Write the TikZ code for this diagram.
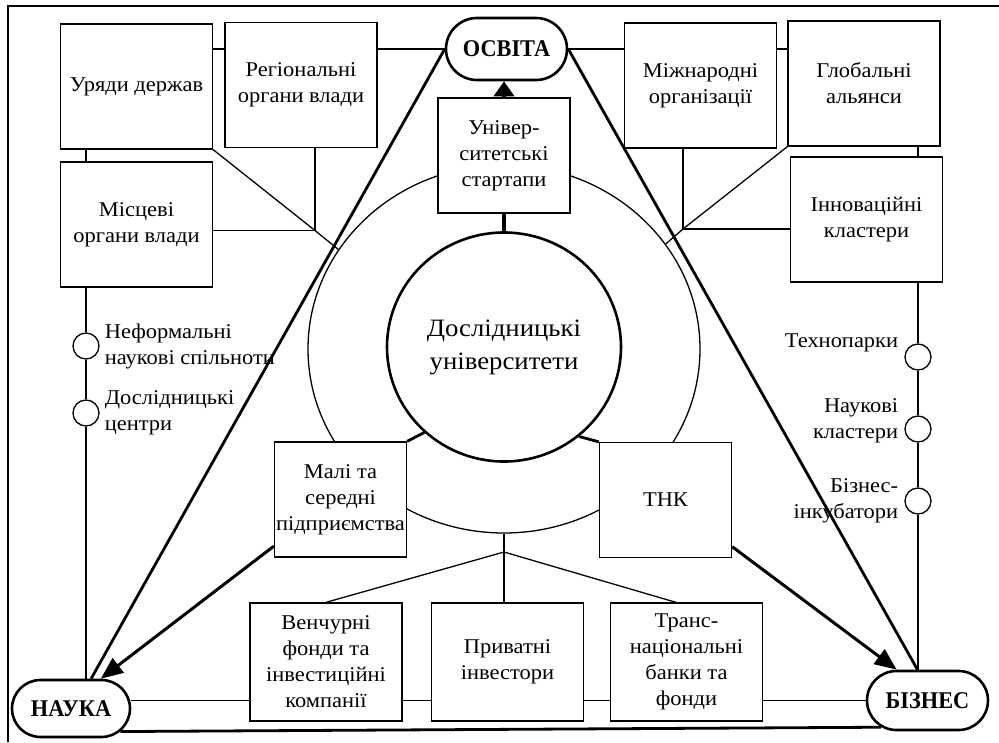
\documentclass[tikz,border=0pt]{standalone}
\usepackage{fontspec}
\setmainfont{Liberation Serif}[FakeStretch=1.07]
\newfontfamily\polefont{Liberation Serif}[FakeStretch=0.93]
\usetikzlibrary{positioning,shapes.misc,shapes.geometric,arrows.meta}

\begin{document}
\begin{tikzpicture}[x=1pt, y=-1pt,
    font=\fontsize{21}{26}\selectfont,
    box/.style={draw, fill=white, line width=1.3pt, align=center, inner sep=1pt},
    big/.style={box, minimum width=152pt, minimum height=125pt},
    mid/.style={box, minimum width=132pt, minimum height=115pt},
    low/.style={box, minimum width=152pt, minimum height=118pt},
    pole/.style={draw, fill=white, rounded rectangle, line width=2.6pt,
      font=\polefont\fontsize{24}{28}\selectfont\bfseries, inner sep=0pt},
    knot/.style={draw, fill=white, circle, line width=1.3pt, minimum size=26pt, inner sep=0pt},
    tag/.style={inner sep=0pt},
    link/.style={line width=1.3pt},
    side/.style={line width=2.8pt},
    bond/.style={line width=4pt},
    stub/.style={line width=2.8pt},
    push/.style={line width=3pt, -{Triangle[length=22pt,width=18pt]}}]
  \useasboundingbox (0,0) rectangle (999,742);
  \draw [link] (8,742) -- (8,6) -- (999,6);

  % rings in the middle
  \node [draw, ellipse, line width=1.3pt, minimum width=392pt, minimum height=368pt,
    inner sep=0pt] (ring) at (504,349) {};
  \node [draw, ellipse, line width=2.6pt, minimum width=234pt, minimum height=229pt,
    inner sep=0pt, align=center, font=\fontsize{25}{33}\selectfont] (univ) at (504,347)
    {Дослідницькі\\університети};

  % the three poles
  \node [pole, minimum width=121pt, minimum height=62pt] (osvita) at (506.5,49) {ОСВІТА};
  \node [pole, minimum width=118pt, minimum height=57pt] (nauka) at (71,708.5) {НАУКА};
  \node [pole, minimum width=121pt, minimum height=59pt] (biznes) at (927.5,700.5) {БІЗНЕС};

  % boxes
  \node [big] (urjady) at (136.5,86.5) {Уряди держав};
  \node [big] (region) at (301,85) {Регіональні\\органи влади};
  \node [big] (misc) at (136.5,224.5) {Місцеві\\органи влади};
  \node [big] (mizhn) at (700.5,85.5) {Міжнародні\\організації};
  \node [big] (global) at (864,83.5) {Глобальні\\альянси};
  \node [big] (innov) at (866.5,219.5) {Інноваційні\\кластери};
  \node [mid] (startup) at (504,155.5) {Універ-\\ситетські\\стартапи};
  \node [mid] (male) at (340.5,499.5) {Малі та\\середні\\підприємства};
  \node [mid] (tnk) at (665.5,500) {ТНК};
  \node [low] (venture) at (326,662) {Венчурні\\фонди та\\інвестиційні\\компанії};
  \node [low] (private) at (507.5,662) {Приватні\\інвестори};
  \node [low] (transn) at (686.5,662) {Транс-\\національні\\банки та\\фонди};

  % small circles with labels
  \node [knot] (d1) at (86,346) {};
  \node [knot] (d2) at (86,413) {};
  \node [knot] (t1) at (918,357) {};
  \node [knot] (t2) at (918,429) {};
  \node [knot] (t3) at (918,501) {};
  \node [tag, align=left, right=5pt of d1] (d1t) {Неформальні\\наукові спільноти};
  \node [tag, align=left, right=5pt of d2] (d2t) {Дослідницькі\\центри};
  \node [tag, align=right, left=6pt of t1, yshift=14pt] (t1t) {Технопарки};
  \node [tag, align=right, left=6pt of t2, yshift=8pt] (t2t) {Наукові\\кластери};
  \node [tag, align=right, left=6pt of t3] (t3t) {Бізнес-\\інкубатори};

  \coordinate (jl) at (315,230.5);
  \coordinate (jr) at (683,229);
  \coordinate (jb) at (504,552);

  % top row
  \draw [link] (urjady.east |- osvita) -- (region.west |- osvita);
  \draw [link] (region.east |- osvita) -- (osvita.west);
  \draw [link] (osvita.east) -- (mizhn.west |- osvita);
  \draw [link] (mizhn.east |- osvita) -- (global.west |- osvita);
  % left column
  \draw [link] (urjady.south -| d1) -- (misc.north -| d1);
  \draw [link] (misc.south -| d1) -- (d1.north);
  \draw [link] (d1.south) -- (d2.north);
  \draw [link] (d2.south) -- (nauka.north -| d2);
  \draw [link] (region.south -| jl) -- (jl) -- (misc.east |- jl);
  \draw [link] (urjady.south east) -- (jl) -- (ring.149);
  % right column
  \draw [link] (global.south -| t1) -- (innov.north -| t1);
  \draw [link] (innov.south -| t1) -- (t1.north);
  \draw [link] (t1.south) -- (t2.north);
  \draw [link] (t2.south) -- (t3.north);
  \draw [link] (t3.south) -- (biznes.north -| t3);
  \draw [link] (mizhn.south -| jr) -- (jr) -- (innov.west |- jr);
  \draw [link] (global.south west) -- (jr) -- (ring.33);
  % bottom row
  \draw [link] (ring.south) -- (ring.south |- private.north);
  \draw [link] (jb) -- (venture.north);
  \draw [link] (jb) -- (transn.100);
  \draw [link] (nauka.east |- biznes) -- (venture.west |- biznes);
  \draw [link] (venture.east |- biznes) -- (private.west |- biznes);
  \draw [link] (private.east |- biznes) -- (transn.west |- biznes);
  \draw [link] (transn.east |- biznes) -- (biznes.west);

  % triangle
  \draw [side] (osvita.west) -- (nauka.56);
  \draw [side] (osvita.east) -- (biznes.108);
  \draw [side] (nauka.-25) -- (biznes.210);

  % thick links and arrows
  \draw [bond, -{Triangle[length=15pt,width=20pt]}] (startup.north) -- (startup.north |- osvita.south);
  \draw [bond] (startup.south) -- (univ.north);
  \draw [stub] (univ.227) -- (male.north east);
  \draw [stub] (univ.310) -- (tnk.north west);
  \draw [push] (male.215) -- (nauka.45);
  \draw [push] (tnk.-35) -- (biznes.135);
\end{tikzpicture}
\end{document}
